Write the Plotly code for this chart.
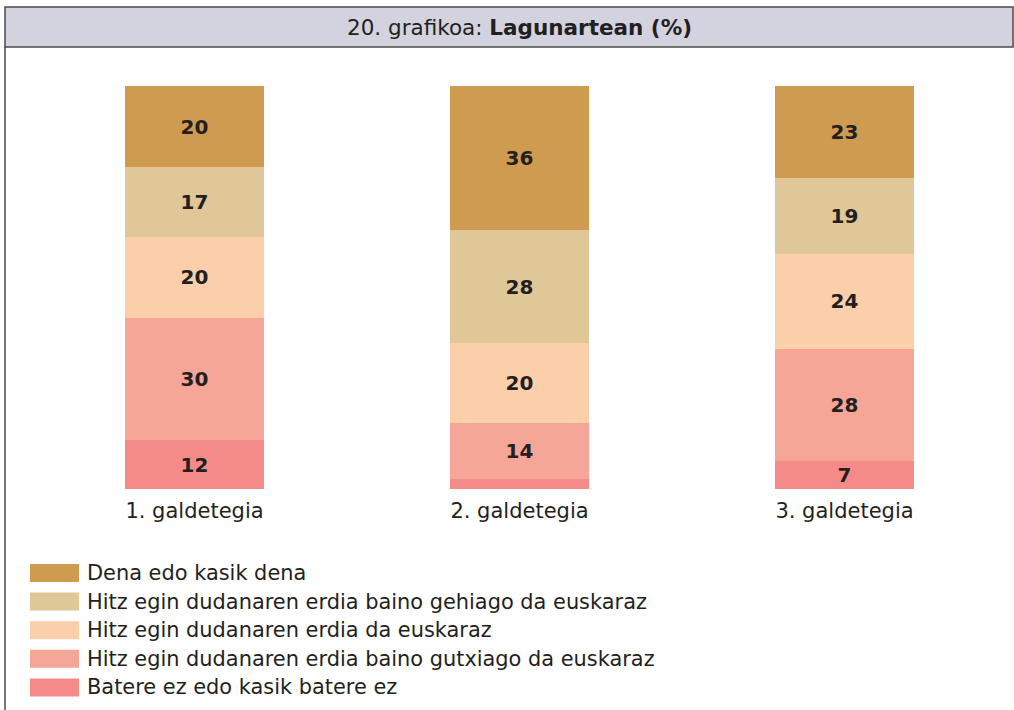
import plotly.graph_objects as go

categories = ["1. galdetegia", "2. galdetegia", "3. galdetegia"]
series_names = [
    "Batere ez edo kasik batere ez",
    "Hitz egin dudanaren erdia baino gutxiago da euskaraz",
    "Hitz egin dudanaren erdia da euskaraz",
    "Hitz egin dudanaren erdia baino gehiago da euskaraz",
    "Dena edo kasik dena",
]
batere = [12, 2.5, 7]
gutxiago = [30, 14, 28]
erdia = [20, 20, 24]
gehiago = [17, 28, 19]
dena = [20, 36, 23]
series_values = [batere, gutxiago, erdia, gehiago, dena]
series_labels = [
    ["12", "", "7"],
    ["30", "14", "28"],
    ["20", "20", "24"],
    ["17", "28", "19"],
    ["20", "36", "23"],
]
colors = ["#f48b89", "#f5a697", "#fccfab", "#dfc797", "#cf9b50"]

W, H = 1014, 710
ML, MR, MT, MB = 32, 7, 86, 221
PW = W - ML - MR
PH = H - MT - MB
FONT = "DejaVu Sans"
TXT = "#231f20"

def px(x):
    return (x - ML) / PW

def py(y):
    return (H - MB - y) / PH

fig = go.Figure()
for name, vals, labs, col in zip(series_names, series_values, series_labels, colors):
    fig.add_trace(go.Bar(
        x=categories, y=vals, name=name, marker=dict(color=col, line=dict(width=0)),
        text=labs, textposition="inside", insidetextanchor="middle", textangle=0,
        constraintext="none",
        textfont=dict(family=FONT, size=20, color=TXT, weight="bold"),
        showlegend=False, hoverinfo="skip",
    ))

shapes = []
annotations = []
# frame
shapes.append(dict(type="rect", xref="paper", yref="paper", x0=px(5), x1=px(1013), y0=py(7), y1=py(47),
                   fillcolor="#d3d2df", line=dict(color="#4a4a4a", width=1.5), layer="below"))
shapes.append(dict(type="line", xref="paper", yref="paper", x0=px(5), x1=px(5), y0=py(47), y1=py(712),
                   line=dict(color="#4a4a4a", width=1.5)))
annotations.append(dict(xref="paper", yref="paper", x=px(519), y=py(28), showarrow=False,
                        text="20. grafikoa: <b>Lagunartean (%)</b>",
                        font=dict(family=FONT, size=21.5, color=TXT), xanchor="center", yanchor="middle"))

# legend (top to bottom: reverse stacking order)
leg_y0 = 573
leg_dy = 28.6
for i, (name, col) in enumerate(zip(series_names[::-1], colors[::-1])):
    cy = leg_y0 + i * leg_dy
    shapes.append(dict(type="rect", xref="paper", yref="paper", x0=px(30), x1=px(79),
                       y0=py(cy - 9), y1=py(cy + 9), fillcolor=col, line=dict(width=0)))
    annotations.append(dict(xref="paper", yref="paper", x=px(85), y=py(cy), showarrow=False,
                            text=name, xanchor="left", yanchor="middle",
                            font=dict(family=FONT, size=20.9, color=TXT)))

fig.update_layout(
    width=W, height=H,
    margin=dict(l=ML, r=MR, t=MT, b=MB),
    barmode="stack", barnorm="percent", bargap=0.572,
    plot_bgcolor="white", paper_bgcolor="white",
    shapes=shapes, annotations=annotations,
    xaxis=dict(showgrid=False, showline=False, zeroline=False, ticks="outside", ticklen=3,
               tickcolor="rgba(0,0,0,0)", tickfont=dict(family=FONT, size=21, color=TXT)),
    yaxis=dict(visible=False, range=[0, 100], fixedrange=True),
    font=dict(family=FONT),
)

fig.write_html("out.html", config={"displayModeBar": False},
               post_script="document.body.style.margin='0';")
